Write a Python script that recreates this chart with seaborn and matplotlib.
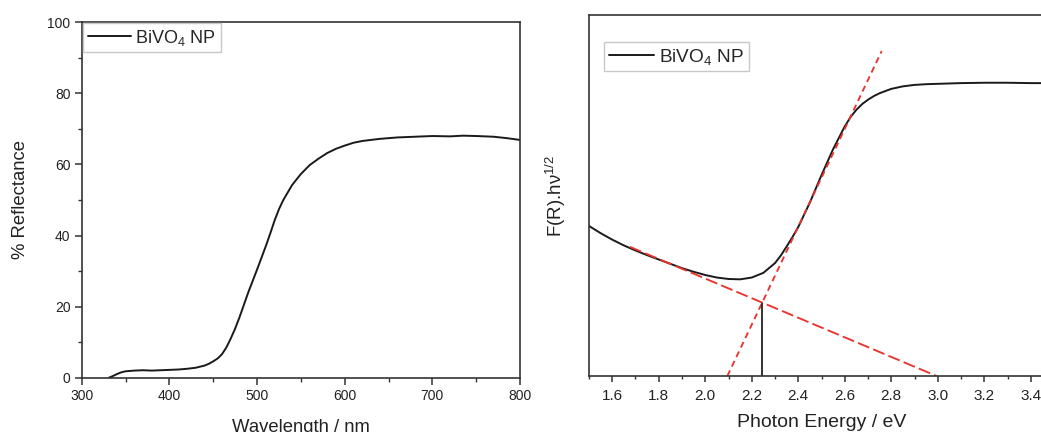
import numpy as np
import pandas as pd
import matplotlib
matplotlib.use("Agg")
import matplotlib.pyplot as plt
from matplotlib.ticker import MultipleLocator, NullLocator, FormatStrFormatter
import seaborn as sns

# Diffuse reflectance spectrum of BiVO4 nanoparticles
wavelength_nm = [331, 335, 340, 345, 350, 360, 370, 380, 390, 400, 410, 420, 430, 440,
                 445, 450, 455, 460, 465, 470, 475, 480, 485, 490, 495, 500, 505, 510,
                 515, 520, 525, 530, 540, 550, 560, 570, 580, 590, 600, 610, 620, 630,
                 640, 660, 680, 700, 720, 735, 750, 770, 785, 800]
reflectance_pct = [0.0, 0.4, 1.0, 1.5, 1.8, 2.0, 2.1, 2.0, 2.1, 2.2, 2.3, 2.5, 2.8, 3.4,
                   3.9, 4.6, 5.4, 6.6, 8.5, 11.0, 13.8, 17.0, 20.5, 24.0, 27.2, 30.4, 33.7, 37.0,
                   40.5, 44.2, 47.4, 50.0, 54.2, 57.3, 59.8, 61.6, 63.2, 64.4, 65.3, 66.1, 66.6, 66.9,
                   67.2, 67.6, 67.8, 68.0, 67.9, 68.1, 68.0, 67.8, 67.4, 66.9]

# Tauc plot (arbitrary units)
photon_energy_ev = [1.50, 1.55, 1.60, 1.65, 1.70, 1.75, 1.80, 1.85, 1.90, 1.95, 2.00, 2.05,
                    2.10, 2.15, 2.20, 2.25, 2.30, 2.325, 2.35, 2.375, 2.40, 2.45, 2.50, 2.55,
                    2.60, 2.625, 2.65, 2.675, 2.70, 2.725, 2.75, 2.80, 2.85, 2.90, 2.95, 3.00,
                    3.10, 3.20, 3.30, 3.40, 3.50]
tauc_value = [41.6, 39.6, 37.8, 36.2, 34.8, 33.5, 32.3, 31.1, 29.9, 28.9, 28.0, 27.3,
              26.9, 26.8, 27.3, 28.6, 31.3, 33.4, 35.9, 38.5, 41.3, 48.1, 55.7, 62.9,
              69.2, 71.8, 73.8, 75.4, 76.6, 77.6, 78.4, 79.6, 80.3, 80.7, 80.9, 81.0,
              81.2, 81.3, 81.3, 81.2, 81.2]

# Linear fits: absorption edge and sub-gap baseline
edge_fit_ev = [2.095, 2.759]
edge_fit_val = [0.0, 90.1]
base_fit_ev = [1.676, 2.995]
base_fit_val = [35.8, 0.0]

series_label = "BiVO$_4$ NP"

sns.set_theme(style="ticks")
plt.rcParams["font.family"] = ["Liberation Sans", "DejaVu Sans"]
plt.rcParams["mathtext.fontset"] = "custom"
plt.rcParams["mathtext.rm"] = "Liberation Sans"
plt.rcParams["mathtext.it"] = "Liberation Sans:italic"
plt.rcParams["mathtext.bf"] = "Liberation Sans:bold"

spine_col = "#333333"
text_col = "#222222"
red = "#e8332e"

fig = plt.figure(figsize=(10.41, 4.32), dpi=100)
ax1 = fig.add_axes([0.0785, 0.1257, 0.4210, 0.8227])
ax2 = fig.add_axes([0.5658, 0.1296, 0.4467, 0.8350])

for ax in (ax1, ax2):
    for s in ax.spines.values():
        s.set_color(spine_col)
        s.set_linewidth(1.2)
    ax.set_facecolor("white")

# Left: reflectance
refl = pd.DataFrame({"wl": wavelength_nm, "R": reflectance_pct})
sns.lineplot(data=refl, x="wl", y="R", ax=ax1, color="#1a1a1a", lw=1.4,
             solid_joinstyle="round", label=series_label)
ax1.set_xlim(300, 800)
ax1.set_ylim(0, 100)
ax1.xaxis.set_major_locator(MultipleLocator(100))
ax1.xaxis.set_minor_locator(MultipleLocator(50))
ax1.yaxis.set_major_locator(MultipleLocator(20))
ax1.yaxis.set_minor_locator(MultipleLocator(10))
ax1.tick_params(which="major", length=5, width=1.1, color=spine_col, labelsize=10,
                labelcolor=text_col, pad=3)
ax1.tick_params(which="minor", length=3, width=1.0, color=spine_col)
ax1.set_xlabel("Wavelength / nm", fontsize=13.3, labelpad=12, color=text_col)
ax1.set_ylabel("% Reflectance", fontsize=13.3, labelpad=13, color=text_col)
leg1 = ax1.legend(loc="upper left", bbox_to_anchor=(0.003, 0.998), borderaxespad=0,
                  fontsize=13, frameon=True, fancybox=False, framealpha=1,
                  edgecolor="#c8c8c8", borderpad=0.25, handlelength=2.4,
                  handletextpad=0.25)
leg1.get_frame().set_linewidth(1.0)

# Right: Tauc plot with band-gap extrapolation
tauc = pd.DataFrame({"E": photon_energy_ev, "F": tauc_value})
sns.lineplot(data=tauc, x="E", y="F", ax=ax2, color="#1a1a1a", lw=1.4,
             solid_joinstyle="round", label=series_label)
sns.lineplot(x=edge_fit_ev, y=edge_fit_val, ax=ax2, color=red, lw=1.35,
             linestyle=(0, (3.3, 2.3)))
sns.lineplot(x=base_fit_ev, y=base_fit_val, ax=ax2, color=red, lw=1.35,
             linestyle=(0, (6.5, 2.3)))

# intersection of the two fits gives the band gap
m1 = (edge_fit_val[1] - edge_fit_val[0]) / (edge_fit_ev[1] - edge_fit_ev[0])
m2 = (base_fit_val[1] - base_fit_val[0]) / (base_fit_ev[1] - base_fit_ev[0])
b1 = edge_fit_val[0] - m1 * edge_fit_ev[0]
b2 = base_fit_val[0] - m2 * base_fit_ev[0]
eg = (b2 - b1) / (m1 - m2)
ax2.vlines(eg, 0, m1 * eg + b1, color="#333333", lw=1.4)

ax2.set_xlim(1.5, 3.5)
ax2.set_ylim(0, 100)
ax2.xaxis.set_major_locator(MultipleLocator(0.2))
ax2.xaxis.set_minor_locator(MultipleLocator(0.1))
ax2.xaxis.set_major_formatter(FormatStrFormatter("%.1f"))
ax2.yaxis.set_major_locator(NullLocator())
ax2.tick_params(axis="x", which="major", length=4, width=1.1, color=spine_col,
                labelsize=11, labelcolor=text_col, pad=5)
ax2.tick_params(axis="x", which="minor", length=2.5, width=1.0, color=spine_col)
ax2.set_xlabel("Photon Energy / eV", fontsize=14, labelpad=8.5, color=text_col)
ax2.set_ylabel("F(R).hν$^{1/2}$", fontsize=13.5, labelpad=15, color=text_col)
handles, labels = ax2.get_legend_handles_labels()
leg2 = ax2.legend(handles[:1], labels[:1], loc="upper left",
                  bbox_to_anchor=(0.032, 0.926), borderaxespad=0,
                  fontsize=13.7, frameon=True, fancybox=False, framealpha=1,
                  edgecolor="#c8c8c8", borderpad=0.25, handlelength=2.4,
                  handletextpad=0.25)
leg2.get_frame().set_linewidth(1.0)

fig.savefig("out.png", dpi=100, facecolor="white")
